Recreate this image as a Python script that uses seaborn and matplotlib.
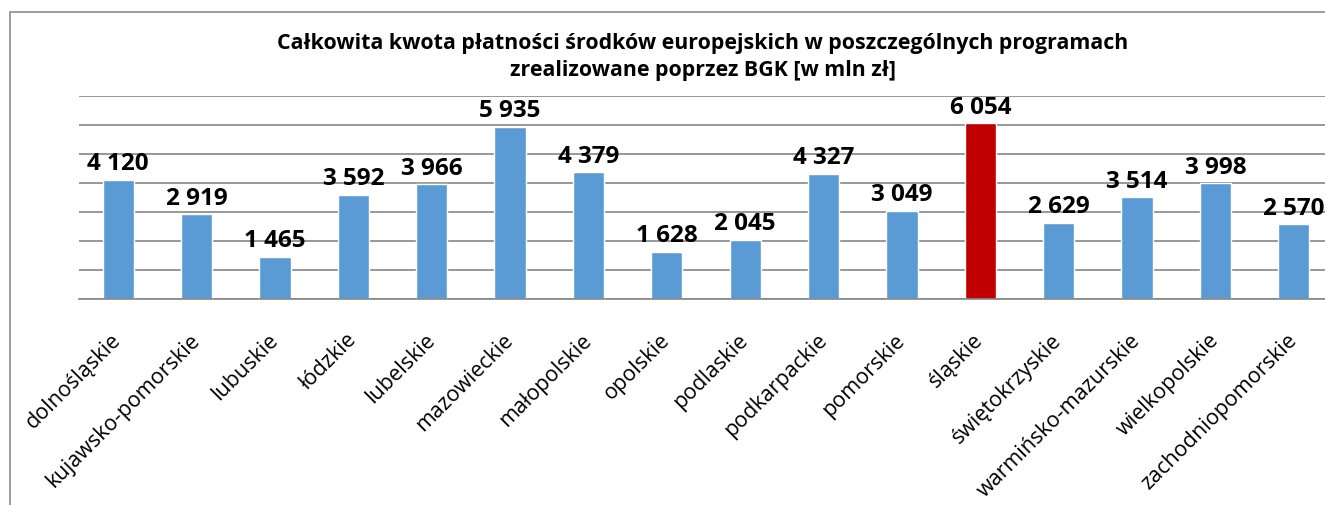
import pandas as pd
import seaborn as sns
import matplotlib.pyplot as plt
import numpy as np
from matplotlib.patches import Rectangle

# dane z wykresu (mln zł)
wojewodztwa = ['dolnośląskie', 'kujawsko-pomorskie', 'lubuskie', 'łódzkie', 'lubelskie',
               'mazowieckie', 'małopolskie', 'opolskie', 'podlaskie', 'podkarpackie',
               'pomorskie', 'śląskie', 'świętokrzyskie', 'warmińsko-mazurskie',
               'wielkopolskie', 'zachodniopomorskie']
kwoty = [4120, 2919, 1465, 3592, 3966, 5935, 4379, 1628, 2045, 4327, 3049, 6054, 2629, 3514, 3998, 2570]
etykiety = ['4 120', '2 919', '1 465', '3 592', '3 966', '5 935', '4 379', '1 628',
            '2 045', '4 327', '3 049', '6 054', '2 629', '3 514', '3 998', '2 570']
wyrozniony = 'śląskie'

tytul = ('Całkowita kwota płatności środków europejskich w poszczególnych programach\n'
         'zrealizowane poprzez BGK [w mln zł]')

df = pd.DataFrame({'woj': wojewodztwa, 'kwota': kwoty})
kolory = {w: ('#C00000' if w == wyrozniony else '#5B9BD5') for w in wojewodztwa}

sns.set_style('white')
plt.rcParams['font.family'] = ['Open Sans', 'DejaVu Sans']
plt.rcParams['text.color'] = 'black'
plt.rcParams['xtick.color'] = 'black'

W, H = 1325, 506
fig = plt.figure(figsize=(W / 100, H / 100), dpi=100)
# obszar wykresu wychodzi poza prawą krawędź, jak w oryginale
ax = fig.add_axes([79 / W, 1 - 300 / H, (1333 - 79) / W, (300 - 97) / H])

sns.barplot(data=df, x='woj', y='kwota', hue='woj', palette=kolory, width=0.4,
            legend=False, ax=ax, saturation=1)

ax.set_ylim(0, 7000)
ax.set_xlim(-0.5, len(wojewodztwa) - 0.5)
ax.set_yticks(np.arange(0, 7001, 1000))
ax.yaxis.grid(True, color='#868686', linewidth=1.2)
ax.set_axisbelow(True)
ax.tick_params(axis='y', left=False, labelleft=False)
for s in ['left', 'right', 'top']:
    ax.spines[s].set_visible(False)
ax.spines['bottom'].set_color('#868686')
ax.spines['bottom'].set_linewidth(1.2)

# znaczniki między kategoriami
ax.set_xticks(np.arange(-0.5, len(wojewodztwa), 1), minor=True)
ax.tick_params(axis='x', which='minor', length=8, width=1.2, color='#868686', direction='out')
ax.tick_params(axis='x', which='major', length=0, pad=27, labelcolor='black')
plt.setp(ax.get_xticklabels(), rotation=45, ha='right', va='center', rotation_mode='anchor',
         fontsize=15.5)

ax.set_xlabel('')
ax.set_ylabel('')

for i, (v, t) in enumerate(zip(kwoty, etykiety)):
    ax.annotate(t, (i, v), xytext=(0, 7.5), textcoords='offset points', ha='center', va='baseline',
                fontsize=17.5, fontweight='bold', color='black')

fig.text(703 / W, 1 - 57 / H, tytul, ha='center', va='center', fontsize=15.4, fontweight='bold',
         linespacing=1.35, color='black')

# ramka obszaru wykresu
fig.add_artist(Rectangle((10 / W, -0.1), 2, 1.1 - 13 / H, transform=fig.transFigure,
                         fill=False, edgecolor='#8c8c8c', linewidth=1.2))

fig.savefig('out.png', dpi=100)
